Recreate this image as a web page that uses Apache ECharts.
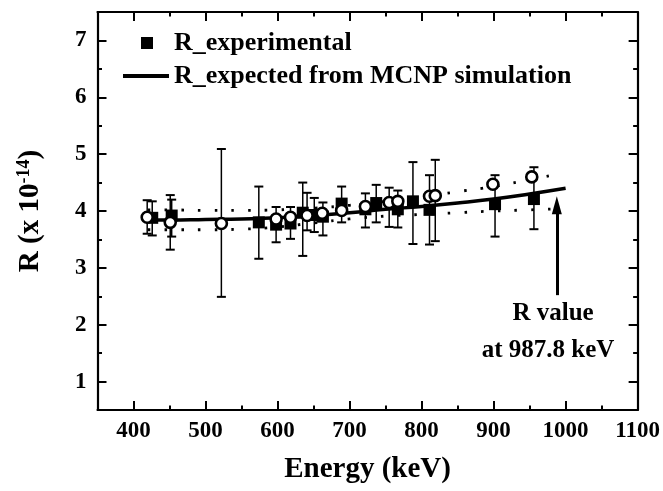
<!DOCTYPE html>
<html><head><meta charset="utf-8">
<script src="https://cdn.jsdelivr.net/npm/echarts@6/dist/echarts.min.js"></script>
<style>html,body{margin:0;padding:0;background:#fff}#c{width:663px;height:491px}</style>
</head><body><div id="c"></div>
<script>
// ---- data ----
const xTickLabels = [400, 500, 600, 700, 800, 900, 1000, 1100];
const yTickLabels = [1, 2, 3, 4, 5, 6, 7];

// R_experimental (filled squares) with error bars
const expE  = [426, 453, 574, 598, 618, 635, 651, 663, 689, 722, 737, 767, 788, 811, 902, 956];
const expR  = [3.88, 3.92, 3.80, 3.76, 3.78, 3.97, 3.93, 3.90, 4.13, 4.03, 4.14, 4.03, 4.17, 4.02, 4.12, 4.21];
const expHi = [4.17, 4.20, 4.43, 4.07, 4.07, 4.50, 4.23, 4.15, 4.43, 4.31, 4.46, 4.36, 4.86, 4.63, 4.63, 4.77];
const expLo = [3.57, 3.55, 3.16, 3.45, 3.51, 3.21, 3.63, 3.57, 3.80, 3.71, 3.80, 3.71, 3.42, 3.41, 3.55, 3.68];

// open circles with error bars (null = no separate bar visible)
const simE  = [419, 451, 522, 598, 618, 641, 662, 689, 722, 755, 767, 811, 819, 899, 953];
const simR  = [3.89, 3.80, 3.78, 3.86, 3.89, 3.92, 3.96, 4.01, 4.08, 4.15, 4.17, 4.26, 4.27, 4.47, 4.60];
const simHi = [4.19, 4.28, 5.09, null, null, 4.32, null, null, null, 4.41, null, null, 4.90, null, null];
const simLo = [3.60, 3.32, 2.49, null, null, 3.66, null, null, null, 3.72, null, null, 3.47, null, null];

// R_expected from MCNP simulation (solid curve)
const fitE = [420, 450, 500, 550, 600, 650, 700, 750, 800, 850, 900, 950, 1000];
const fitR = [3.84, 3.84, 3.85, 3.86, 3.88, 3.92, 3.97, 4.03, 4.08, 4.14, 4.21, 4.30, 4.40];

// dotted band curves
const bandE  = [420, 450, 500, 550, 600, 650, 700, 750, 800, 850, 900, 950, 990];
const bandHi = [4.02, 4.02, 4.01, 4.01, 4.02, 4.05, 4.10, 4.17, 4.25, 4.34, 4.43, 4.55, 4.65];
const bandLo = [3.67, 3.67, 3.67, 3.68, 3.72, 3.79, 3.86, 3.91, 3.94, 3.97, 4.00, 4.02, 4.04];

// annotation arrow (energy, from R, to R)
const arrowE = 987.8;
const arrowFromR = 2.52;
const arrowToR = 4.10;

// ---- chart ----
const FONT = '"Liberation Serif", "Times New Roman", serif';
const zip = (a, b) => a.map((v, i) => [v, b[i]]);
const errData = (E, Hi, Lo) => E.map((e, i) => [e, Hi[i], Lo[i]]).filter(d => d[1] != null);

function renderErr(params, api) {
  const x = api.value(0), hi = api.value(1), lo = api.value(2);
  const a = api.coord([x, hi]), b = api.coord([x, lo]);
  const w = 4.5;
  return {
    type: 'group',
    children: [
      { type: 'line', shape: { x1: a[0], y1: a[1], x2: b[0], y2: b[1] }, style: { stroke: '#000', lineWidth: 1.5 } },
      { type: 'line', shape: { x1: a[0] - w, y1: a[1], x2: a[0] + w, y2: a[1] }, style: { stroke: '#000', lineWidth: 2 } },
      { type: 'line', shape: { x1: b[0] - w, y1: b[1], x2: b[0] + w, y2: b[1] }, style: { stroke: '#000', lineWidth: 2 } }
    ]
  };
}

const X_MIN = 350, X_MAX = 1100, Y_MIN = 0.5, Y_MAX = 7.5;
const lineBlack = { color: '#000', width: 2.2 };

function xAx(pos, major, withLine, withLabel) {
  return {
    type: 'value', position: pos, min: X_MIN, max: X_MAX, interval: 50,
    axisLine: { show: withLine, onZero: false, lineStyle: lineBlack },
    axisTick: major
      ? { show: true, inside: true, length: 9, customValues: xTickLabels, lineStyle: { color: '#000', width: 2 } }
      : { show: true, inside: true, length: 4.5, lineStyle: { color: '#000', width: 2 } },
    axisLabel: withLabel
      ? { show: true, customValues: xTickLabels, formatter: v => String(v), margin: 10, color: '#000', fontFamily: FONT, fontWeight: 'bold', fontSize: 23 }
      : { show: false },
    splitLine: { show: false },
    name: withLabel ? 'Energy (keV)' : '',
    nameLocation: 'middle', nameGap: 45,
    nameTextStyle: { color: '#000', fontFamily: FONT, fontWeight: 'bold', fontSize: 29 }
  };
}
function yAx(pos, major, withLine, withLabel) {
  return {
    type: 'value', position: pos, min: Y_MIN, max: Y_MAX, interval: 0.5,
    axisLine: { show: withLine, onZero: false, lineStyle: lineBlack },
    axisTick: major
      ? { show: true, inside: true, length: 9, customValues: yTickLabels, lineStyle: { color: '#000', width: 2 } }
      : { show: true, inside: true, length: 4.5, lineStyle: { color: '#000', width: 2 } },
    axisLabel: withLabel
      ? { show: true, customValues: yTickLabels, formatter: v => String(v), margin: 11, color: '#000', fontFamily: FONT, fontWeight: 'bold', fontSize: 23 }
      : { show: false },
    splitLine: { show: false },
    name: withLabel ? 'R (x 10{sup|-14})' : '',
    nameLocation: 'middle', nameGap: 52,
    nameTextStyle: {
      color: '#000', fontFamily: FONT, fontWeight: 'bold', fontSize: 29,
      rich: { sup: { fontFamily: FONT, fontWeight: 'bold', fontSize: 18, color: '#000', verticalAlign: 'top', padding: [0, 0, 12, 0] } }
    }
  };
}

const legendText = { color: '#000', fontFamily: FONT, fontWeight: 'bold', fontSize: 26, rich: { g: { width: 16 } } };

const option = {
  animation: false,
  backgroundColor: '#fff',
  grid: { left: 97.5, right: 24.5, top: 12, bottom: 81, containLabel: false },
  xAxis: [xAx('bottom', false, true, true), xAx('bottom', true, false, false), xAx('top', false, true, false), xAx('top', true, false, false)],
  yAxis: [yAx('left', false, true, true), yAx('left', true, false, false), yAx('right', false, true, false), yAx('right', true, false, false)],
  legend: [
    { data: ['R_experimental'], left: 136, top: 25, itemWidth: 12, itemHeight: 12, icon: 'rect',
      selectedMode: false, formatter: n => '{g| }' + n, textStyle: legendText },
    { data: ['R_expected from MCNP simulation'], left: 118, top: 58, itemWidth: 46, itemHeight: 4, icon: 'rect',
      selectedMode: false, textStyle: legendText }
  ],
  graphic: [
    { type: 'text', x: 553, y: 314, style: { text: 'R value', fill: '#000', fontFamily: FONT, fontWeight: 'bold', fontSize: 25, align: 'center', verticalAlign: 'middle' } },
    { type: 'text', x: 548, y: 351, style: { text: 'at 987.8 keV', fill: '#000', fontFamily: FONT, fontWeight: 'bold', fontSize: 25, align: 'center', verticalAlign: 'middle' } }
  ],
  series: [
    { name: 'bandHi', type: 'line', data: zip(bandE, bandHi), smooth: true, symbol: 'none', z: 1,
      lineStyle: { color: '#000', width: 2.8, type: [2.5, 14.2], cap: 'butt' } },
    { name: 'bandLo', type: 'line', data: zip(bandE, bandLo), smooth: true, symbol: 'none', z: 1,
      lineStyle: { color: '#000', width: 2.8, type: [2.5, 14.2], cap: 'butt' } },
    { name: 'R_expected from MCNP simulation', type: 'line', data: zip(fitE, fitR), smooth: true, symbol: 'none', z: 2,
      itemStyle: { color: '#000' }, lineStyle: { color: '#000', width: 3.5 },
      markLine: {
        silent: true, animation: false,
        symbol: ['none', 'triangle'],
        label: { show: false },
        lineStyle: { color: '#000', width: 3, type: 'solid' },
        data: [[
          { coord: [arrowE, arrowFromR], symbol: 'none' },
          { coord: [arrowE, arrowToR], symbol: 'triangle', symbolSize: [10, 18] }
        ]]
      } },
    { name: 'errExp', type: 'custom', renderItem: renderErr, data: errData(expE, expHi, expLo), encode: { x: 0, y: [1, 2] }, z: 3 },
    { name: 'errSim', type: 'custom', renderItem: renderErr, data: errData(simE, simHi, simLo), encode: { x: 0, y: [1, 2] }, z: 3 },
    { name: 'R_experimental', type: 'scatter', data: zip(expE, expR), symbol: 'rect', symbolSize: 12, z: 4,
      itemStyle: { color: '#000', opacity: 1 } },
    { name: 'R_simulated', type: 'scatter', data: zip(simE, simR), symbol: 'circle', symbolSize: 11, z: 5,
      itemStyle: { color: '#fff', borderColor: '#000', borderWidth: 2.6, opacity: 1 } }
  ]
};

const chart = echarts.init(document.getElementById('c'), null, { renderer: 'canvas' });
chart.setOption(option);
</script>
</body></html>
